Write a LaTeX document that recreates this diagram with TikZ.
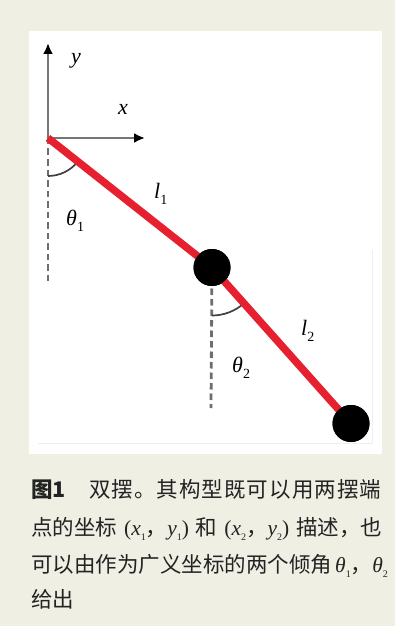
\documentclass[tikz,border=0pt]{standalone}
\usepackage{fontspec}
\setmainfont{Liberation Serif}
\newfontfamily\cjk{Noto Sans CJK SC}
\usetikzlibrary{arrows.meta}
\definecolor{bg}{RGB}{240,239,228}
\definecolor{pend}{RGB}{230,32,46}
\definecolor{axisgray}{RGB}{118,118,118}
\definecolor{dashgray}{RGB}{110,110,110}
\definecolor{captxt}{RGB}{35,35,35}
\definecolor{edgegray}{RGB}{238,238,238}
\newcommand\sprd[1]{\sprdA#1\relax}
\def\sprdA#1#2{#1\ifx\relax#2\else\hfil\expandafter\sprdA\expandafter#2\fi}
\newcommand\lsub[1]{\raisebox{-0.28em}{\fontsize{14bp}{14bp}\selectfont #1}}
\newcommand\csub[1]{\raisebox{-0.25em}{\fontsize{10bp}{10bp}\selectfont #1}}
\newcommand\pair[2]{{\rmfamily(\textit{x}\csub{#1}{\cjk ，}\textit{y}\csub{#2})}}
\tikzset{
  axisline/.style={draw=axisgray, line width=2.3bp, -{Latex[length=11bp,width=10bp,color=black]}},
  dashline/.style={draw=dashgray, line width=2.8bp, dash pattern=on 6.5bp off 4bp},
  anglearc/.style={draw=black!75, line width=1.7bp},
  rod/.style={draw=pend, line width=7.5bp},
  mass/.style={circle, fill=black, minimum size=37bp, inner sep=0pt},
  lab/.style={font=\fontsize{22bp}{26bp}\selectfont, inner sep=0pt, anchor=base west, text=black},
  captext/.style={font=\fontsize{21.5bp}{24bp}\selectfont, inner sep=0pt, anchor=base west, text=captxt}
}
\begin{document}
\begin{tikzpicture}[x=1bp,y=-1bp]
\useasboundingbox (0,0) rectangle (395,626);
\fill[bg] (0,0) rectangle (395,626);
\fill[white] (29,31) rectangle (382,454);
\draw[edgegray, line width=0.8bp] (38,443) -- (372,443) -- (372,250);
% points
\coordinate (O) at (48,138);
\coordinate (ytip) at (48,43);
\coordinate (xtip) at (145,138);
\coordinate (d1) at (48,283);
\node[mass] (m1) at (212,267.5) {};
\node[mass] (m2) at (351,423.5) {};
\coordinate (d2) at (211,408);
% dashed verticals
\draw[dashline] (O) -- (d1);
\draw[dashline] (m1.center) -- (d2);
% angle arcs
\draw[anglearc] (O) ++(90:38) arc[start angle=90, end angle=38.2, radius=38];
\draw[anglearc] (m1.center) ++(90:48) arc[start angle=90, end angle=48.3, radius=48];
% axes
\draw[axisline] (O) -- (ytip);
\draw[axisline] (O) -- (xtip);
% rods
\draw[rod] (O) -- (m1.center) -- (m2.center);
\node[mass] at (m1) {};
\node[mass] at (m2) {};
% labels
\node[lab] (ly) at (71,64) {\textit{y}};
\node[lab] (lx) at (118,115) {\textit{x}};
\node[lab] (l1) at (154,198) {\textit{l}\lsub{1}};
\node[lab] (t1) at (66,225) {\textit{θ}\lsub{1}};
\node[lab] (l2) at (301,335) {\textit{l}\lsub{2}};
\node[lab] (t2) at (232,372) {\textit{θ}\lsub{2}};
% caption
\node[captext] (c1a) at (31,497) {\cjk\bfseries 图1};
\node[captext] (c1b) at (89,497) {\hbox to 292bp{\cjk\sprd{双摆。其构型既可以用两摆端}}};
\node[captext] (c2) at (31,535) {\hbox to 351bp{\cjk 点的坐标\hfil\pair{1}{1}\hfil 和\hfil\pair{2}{2}\hfil 描述，也}};
\node[captext] (c3) at (31,572) {\hbox to 352bp{\cjk\sprd{可以由作为广义坐标的两个倾角}\hskip 3bp plus 1fil{\rmfamily\textit{θ}\csub{1}}{\cjk ，}{\rmfamily\textit{θ}\csub{2}}}};
\node[captext] (c4) at (31,607) {\cjk 给出};
\end{tikzpicture}
\end{document}
